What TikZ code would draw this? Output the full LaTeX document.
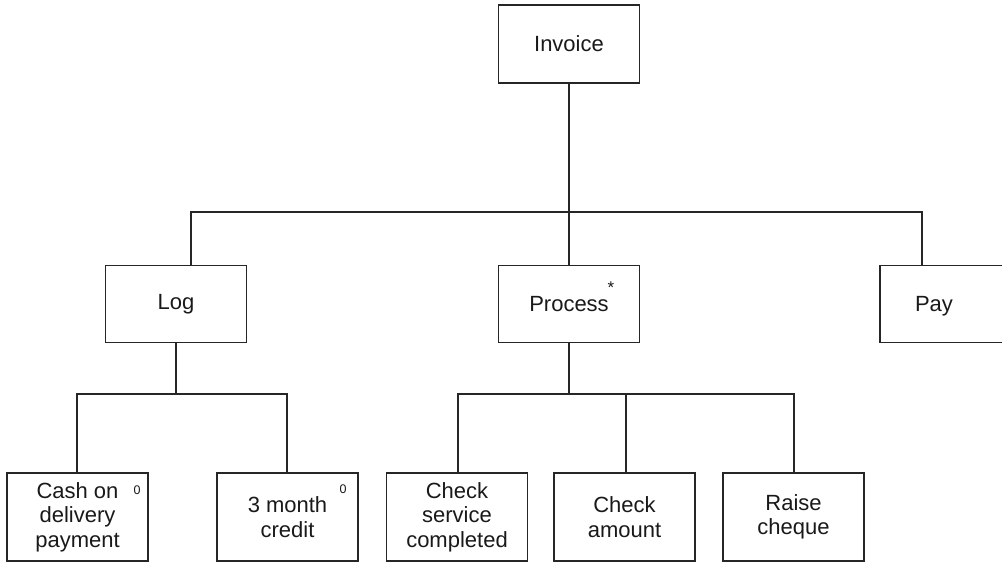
\documentclass[tikz,border=0pt]{standalone}
\usepackage{fontspec}
\setmainfont{Liberation Sans}
\begin{document}
\begin{tikzpicture}[x=1pt,y=-1pt,
  box/.style={draw=black!85, rectangle, inner sep=0pt, align=center,
    font=\fontsize{22}{24.5}\selectfont, text=black!90},
  topbox/.style={box, minimum width=141pt, minimum height=77pt},
  leafbox/.style={box, minimum width=141pt, minimum height=88pt},
  plain/.style={inner sep=0pt, font=\fontsize{22}{24.5}\selectfont, text=black!90},
  marker/.style={inner sep=0pt, font=\fontsize{12.5}{12.5}\selectfont, text=black!90},
  wire/.style={draw=black!85, line width=1.3pt}]
\tikzset{every node/.append style={line width=1.3pt}}
\useasboundingbox (0,0) rectangle (1002,562);
\clip (0,0) rectangle (1002,562);

% boxes
\node[topbox, minimum height=78pt] (inv) at (569,44) {Invoice};
\node[topbox] (log) at (176,304) {Log};
\node[topbox] (proc) at (569,304) {Process};
\node[topbox] (pay) at (950.5,304) {};
\node[plain, anchor=base] (paytext) at (934,311) {Pay};

\node[leafbox] (cash) at (77.5,517) {Cash on\\delivery\\payment};
\node[leafbox] (cred) at (287.5,517) {3 month\\credit};
\node[leafbox] (chks) at (457,517) {Check\\service\\completed};
\node[leafbox] (chka) at (624.5,517) {Check\\amount};
\node[leafbox] (rais) at (793.5,517) {Raise\\cheque};

% markers
\node[marker, font=\fontsize{17}{17}\selectfont] (star) at (611,288) {*};
\node[marker] (zc) at (137,490) {0};
\node[marker] (zm) at (343,489) {0};

% bus points
\coordinate (b1l) at (191,212);
\coordinate (b1r) at (922,212);
\coordinate (b2l) at (77,394);
\coordinate (b2r) at (287,394);
\coordinate (b3l) at (458,394);
\coordinate (b3m) at (626,394);
\coordinate (b3r) at (794,394);

% first level
\draw[wire] (inv.south) -- (proc.north);
\draw[wire] (b1l |- log.north) -- (b1l) -- (b1r) -- (b1r |- pay.north);

% second level under Log
\draw[wire] (log.south) -- (log.south |- b2l);
\draw[wire] (b2l |- cash.north) -- (b2l) -- (b2r) -- (b2r |- cred.north);

% second level under Process
\draw[wire] (proc.south) -- (proc.south |- b3l);
\draw[wire] (b3l |- chks.north) -- (b3l) -- (b3r) -- (b3r |- rais.north);
\draw[wire] (b3m) -- (b3m |- chka.north);
\end{tikzpicture}
\end{document}
